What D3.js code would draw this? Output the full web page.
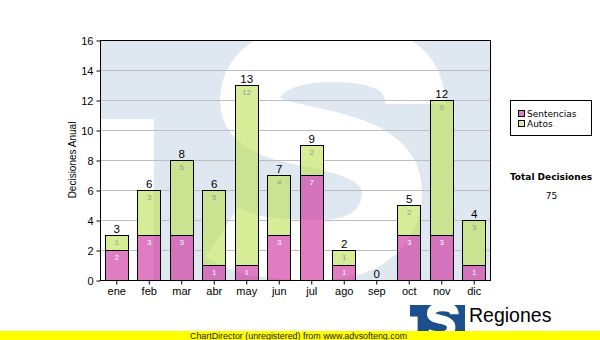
<!DOCTYPE html>
<html>
<head>
<meta charset="utf-8">
<script src="https://cdn.jsdelivr.net/npm/d3@7/dist/d3.min.js"></script>
<style>
  html, body { margin: 0; padding: 0; background: #fff; }
  svg { display: block; }
</style>
</head>
<body>
<svg id="chart" width="600" height="340"></svg>
<script>
// Monthly decisions, split into sentences and rulings
const months = ["ene", "feb", "mar", "abr", "may", "jun", "jul", "ago", "sep", "oct", "nov", "dic"];
const sentencias = [2, 3, 3, 1, 1, 3, 7, 1, 0, 3, 3, 1];
const autos = [1, 3, 5, 5, 12, 4, 2, 1, 0, 2, 9, 3];
const yTicks = [0, 2, 4, 6, 8, 10, 12, 14, 16];
const seriesNames = ["Sentencias", "Autos"];
// translucent bar fills (drawn at barOpacity) and their solid legend swatches
const seriesColors = ["#cb2599", "#bbdf50"];
const swatchColors = ["#de7cc2", "#d4ec98"];
const barOpacity = 0.6;
const innerLabelColors = ["#ffffff", "#9a9a9a"];

const W = 600, H = 340;
const plot = { left: 100, right: 490, top: 40, bottom: 280 };
const axisFont = "'Liberation Sans', Arial, sans-serif";
const legendFont = "'DejaVu Sans', Verdana, sans-serif";

const svg = d3.select("#chart");

const x = d3.scaleBand()
  .domain(months)
  .range([plot.left, plot.right])
  .paddingInner(0.28)
  .paddingOuter(0.14);

const y = d3.scaleLinear()
  .domain([0, 16])
  .range([plot.bottom, plot.top]);

// stacked layout
const rows = months.map((m, i) => ({ month: m, Sentencias: sentencias[i], Autos: autos[i] }));
const stacked = d3.stack().keys(seriesNames)(rows);
const totals = rows.map(r => r.Sentencias + r.Autos);

const bx = m => Math.round(x(m)) + 0.5;
const bw = Math.round(x.bandwidth());
const by = v => Math.round(y(v)) + 0.5;

// "TS" emblem drawn in a 390 x 240 box: blue field, white T-notch and white S
function emblem(g, w, h, blue) {
  const sx = w / 390, sy = h / 240;
  const e = g.append("g").attr("transform", `scale(${sx},${sy})`);
  e.append("rect").attr("x", 0).attr("y", 0).attr("width", 390).attr("height", 240).attr("fill", blue);
  e.append("rect").attr("x", 0).attr("y", 79).attr("width", 54).attr("height", 161).attr("fill", "#fff");
  const sPath = d3.path();
  sPath.moveTo(315, 64);
  sPath.bezierCurveTo(315, 22, 275, 12, 232, 12);
  sPath.bezierCurveTo(182, 12, 150, 30, 150, 60);
  sPath.bezierCurveTo(150, 88, 188, 92, 220, 99);
  sPath.bezierCurveTo(262, 108, 292, 122, 292, 152);
  sPath.bezierCurveTo(292, 190, 262, 210, 220, 210);
  sPath.bezierCurveTo(180, 210, 146, 208, 122, 192);
  e.append("path")
    .attr("d", sPath.toString())
    .attr("fill", "none")
    .attr("stroke", "#fff")
    .attr("stroke-width", 60)
    .attr("stroke-linecap", "butt");
}

// page background
svg.append("rect").attr("width", W).attr("height", H).attr("fill", "#fff");

// watermark emblem behind the plot
const wm = svg.append("g")
  .attr("transform", `translate(${plot.left},${plot.top})`);
emblem(wm, plot.right - plot.left, plot.bottom - plot.top, "#dfe8f1");

// grid lines are hidden behind the bars
const defs = svg.append("defs");
const mask = defs.append("mask").attr("id", "gridMask").attr("maskUnits", "userSpaceOnUse")
  .attr("x", 0).attr("y", 0).attr("width", W).attr("height", H);
mask.append("rect").attr("width", W).attr("height", H).attr("fill", "#fff");
mask.selectAll("rect.bar")
  .data(rows.filter((d, i) => totals[i] > 0))
  .join("rect")
  .attr("class", "bar")
  .attr("x", d => bx(d.month))
  .attr("y", d => by(d.Sentencias + d.Autos))
  .attr("width", bw)
  .attr("height", d => by(0) - by(d.Sentencias + d.Autos))
  .attr("fill", "#000");

svg.append("g")
  .attr("mask", "url(#gridMask)")
  .selectAll("line")
  .data(yTicks.filter(t => t > 0 && t < 16))
  .join("line")
  .attr("x1", plot.left).attr("x2", plot.right)
  .attr("y1", d => by(d))
  .attr("y2", d => by(d))
  .attr("stroke", "#bdbdbd")
  .attr("stroke-width", 1);

// stacked bars
const barG = svg.append("g");
stacked.forEach((layer, si) => {
  barG.append("g")
    .selectAll("rect")
    .data(layer.filter(d => d[1] > d[0]))
    .join("rect")
    .attr("x", d => bx(d.data.month))
    .attr("y", d => by(d[1]))
    .attr("width", bw)
    .attr("height", d => by(d[0]) - by(d[1]))
    .attr("fill", seriesColors[si])
    .attr("fill-opacity", barOpacity)
    .attr("stroke", "#000")
    .attr("stroke-width", 1);
});

// plot frame
svg.append("rect")
  .attr("x", plot.left + 0.5).attr("y", plot.top + 0.5)
  .attr("width", plot.right - plot.left).attr("height", plot.bottom - plot.top)
  .attr("fill", "none").attr("stroke", "#000").attr("stroke-width", 1);

// segment value labels
stacked.forEach((layer, si) => {
  svg.append("g")
    .selectAll("text")
    .data(layer.filter(d => d[1] > d[0]))
    .join("text")
    .attr("x", d => x(d.data.month) + x.bandwidth() / 2 + 0.5)
    .attr("y", d => y(d[1]) + 9.5)
    .attr("text-anchor", "middle")
    .attr("font-family", axisFont)
    .attr("font-size", 8)
    .attr("fill", innerLabelColors[si])
    .text(d => d[1] - d[0]);
});

// totals above each bar
svg.append("g")
  .selectAll("text")
  .data(rows)
  .join("text")
  .attr("x", d => x(d.month) + x.bandwidth() / 2 + 0.5)
  .attr("y", (d, i) => y(totals[i]) - 2.5)
  .attr("text-anchor", "middle")
  .attr("font-family", axisFont)
  .attr("font-size", 11.5)
  .attr("fill", "#000")
  .text((d, i) => totals[i]);

// y axis
const yAxis = d3.axisLeft(y).tickValues(yTicks).tickSize(4).tickPadding(3).tickFormat(d3.format("d"));
const yg = svg.append("g").attr("transform", `translate(${plot.left + 0.5},0.5)`).call(yAxis);
yg.select(".domain").remove();
yg.selectAll("line").attr("stroke", "#000");
yg.selectAll("text").attr("font-family", axisFont).attr("font-size", 11).attr("fill", "#000");

// x axis
const xAxis = d3.axisBottom(x).tickSize(4).tickPadding(3);
const xg = svg.append("g").attr("transform", `translate(0.5,${plot.bottom + 0.5})`).call(xAxis);
xg.select(".domain").remove();
xg.selectAll("line").attr("stroke", "#000");
xg.selectAll("text").attr("font-family", axisFont).attr("font-size", 11).attr("fill", "#000");

// y axis title
svg.append("text")
  .attr("transform", `translate(76,${(plot.top + plot.bottom) / 2}) rotate(-90)`)
  .attr("text-anchor", "middle")
  .attr("font-family", axisFont)
  .attr("font-size", 10)
  .attr("fill", "#000")
  .text("Decisiones Anual");

// legend
const lg = svg.append("g");
lg.append("rect")
  .attr("x", 510.5).attr("y", 100.5).attr("width", 81).attr("height", 35)
  .attr("fill", "#fff").attr("stroke", "#000");
seriesNames.forEach((name, i) => {
  lg.append("rect")
    .attr("x", 518.5).attr("y", 110.5 + i * 10).attr("width", 6).attr("height", 6)
    .attr("fill", swatchColors[i]).attr("stroke", "#000");
  lg.append("text")
    .attr("x", 527).attr("y", 117 + i * 10)
    .attr("font-family", legendFont).attr("font-size", 9).attr("fill", "#000")
    .text(name);
});

// grand total
svg.append("text")
  .attr("x", 551).attr("y", 180)
  .attr("text-anchor", "middle")
  .attr("font-family", legendFont).attr("font-size", 9).attr("font-weight", "bold").attr("fill", "#000")
  .text("Total Decisiones");
svg.append("text")
  .attr("x", 551.5).attr("y", 199)
  .attr("text-anchor", "middle")
  .attr("font-family", legendFont).attr("font-size", 9).attr("fill", "#000")
  .text(d3.sum(totals));

// brand emblem and name
const logo = svg.append("g").attr("transform", "translate(410,305)");
emblem(logo, 55, 35, "#1d4f8e");
svg.append("text")
  .attr("x", 469).attr("y", 322)
  .attr("font-family", axisFont).attr("font-size", 19.5).attr("fill", "#000")
  .text("Regiones");

// footer band
svg.append("rect").attr("x", 0).attr("y", 331).attr("width", W).attr("height", 9).attr("fill", "#ffff00");
svg.append("text")
  .attr("x", 190).attr("y", 338.5)
  .attr("font-family", axisFont).attr("font-size", 8.9).attr("fill", "#222")
  .text("ChartDirector (unregistered) from www.advsofteng.com");
</script>
</body>
</html>
